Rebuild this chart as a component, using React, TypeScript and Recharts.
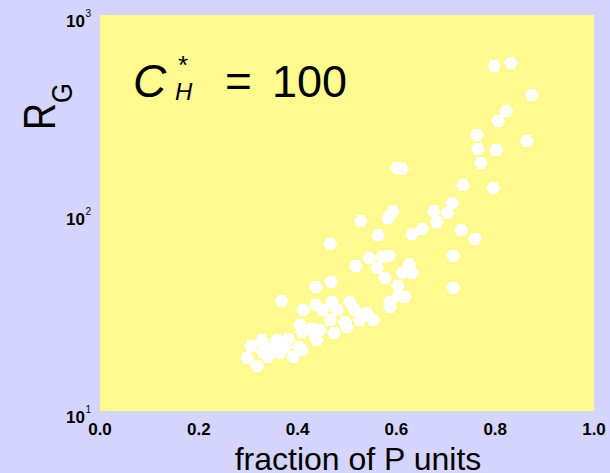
import React from 'react';
import { ScatterChart, Scatter, XAxis, YAxis, CartesianGrid } from 'recharts';

// values (x = fraction of P units, y = R_G, log scale)
const fractionP = [
  0.798, 0.832, 0.874, 0.822, 0.806, 0.763, 0.864, 0.765, 0.802, 0.771,
  0.735, 0.796, 0.713, 0.704, 0.676, 0.682, 0.731, 0.759, 0.715, 0.715,
  0.601, 0.611, 0.593, 0.583, 0.528, 0.652, 0.632, 0.563, 0.466, 0.545,
  0.571, 0.585, 0.518, 0.561, 0.626, 0.613, 0.632, 0.577, 0.603, 0.468,
  0.605, 0.617, 0.587, 0.587, 0.506, 0.47, 0.451, 0.48, 0.516, 0.54,
  0.553, 0.526, 0.466, 0.496, 0.5, 0.474, 0.445, 0.437, 0.368, 0.411,
  0.437, 0.405, 0.429, 0.439, 0.328, 0.306, 0.358, 0.381, 0.403, 0.298,
  0.318, 0.34, 0.364, 0.391, 0.409, 0.374, 0.348, 0.33, 0.409, 0.435,
];
const radiusG = [
  552, 573, 394, 327, 292, 248, 231, 210, 208, 179,
  138, 134, 112, 100, 102, 90, 82, 74, 61, 42,
  169, 167, 102, 94, 91, 83, 78, 77, 70, 59,
  60, 61, 54, 53, 55, 50, 50, 47, 43, 45,
  38.5, 37.7, 35.5, 33.5, 35.5, 35.5, 32.4, 32.4, 32.4, 31.3,
  28.8, 28.8, 28.8, 28.1, 26.5, 24.8, 25.6, 42.3, 36, 32.4,
  34.3, 27.2, 25.9, 22.8, 22.8, 21.3, 22.8, 23.1, 21.0, 18.5,
  16.9, 18.8, 19.6, 18.8, 20.3, 21.0, 20.8, 19.9, 25.1, 24.2,
];
const xTicks = [0, 0.2, 0.4, 0.6, 0.8, 1.0];
const yTicks = [10, 100, 1000];

const points = fractionP.map((x, i) => ({ x, y: radiusG[i] }));

const FONT = '"Liberation Sans", Arial, sans-serif';

const Hexagon = (props: any) => {
  const { cx, cy } = props;
  if (cx == null || cy == null) return null;
  const pts = [
    [cx - 7, cy], [cx - 3.5, cy - 6], [cx + 3.5, cy - 6],
    [cx + 7, cy], [cx + 3.5, cy + 6], [cx - 3.5, cy + 6],
  ].map(p => p.join(',')).join(' ');
  return <polygon points={pts} fill="#ffffff" shapeRendering="crispEdges" />;
};

const XTick = (props: any) => {
  const { x, y, payload } = props;
  return (
    <text x={x} y={y + 24} textAnchor="middle" fontFamily={FONT} fontWeight="bold" fontSize={17} fill="#000">
      {Number(payload.value).toFixed(1)}
    </text>
  );
};

const YTick = (props: any) => {
  const { x, y, payload } = props;
  const exp = Math.round(Math.log10(payload.value));
  return (
    <g>
      <text x={x - 15} y={y + 11.5} textAnchor="end" fontFamily={FONT} fontWeight="bold" fontSize={17} fill="#000">10</text>
      <text x={x - 14.5} y={y + 2} fontFamily={FONT} fontSize={10} fill="#000">{exp}</text>
    </g>
  );
};

export default function App() {
  return (
    <div style={{ position: 'absolute', left: 0, top: 0, width: 610, height: 473, background: '#d4d4fc' }}>
      <ScatterChart width={610} height={473} margin={{ top: 15, right: 16, bottom: 0, left: 0 }}>
        <CartesianGrid fill="#fffa90" stroke="none" horizontal={false} vertical={false} />
        <XAxis
          type="number"
          dataKey="x"
          domain={[0, 1]}
          ticks={xTicks}
          interval={0}
          height={62}
          axisLine={false}
          tickLine={false}
          tickSize={0}
          tickMargin={0}
          tick={<XTick />}
          label={{ value: 'fraction of P units', position: 'insideBottom', offset: 3, dx: 11, fontSize: 32, fontFamily: FONT, fill: '#000' }}
        />
        <YAxis
          type="number"
          dataKey="y"
          scale="log"
          domain={[10, 1000]}
          ticks={yTicks}
          interval={0}
          width={100}
          axisLine={false}
          tickLine={false}
          tickSize={0}
          tickMargin={0}
          tick={<YTick />}
        />
        <Scatter data={points} shape={<Hexagon />} isAnimationActive={false} />
        <text transform="translate(55,130) rotate(-90) scale(0.85,1)" x={0} y={0} fontFamily={FONT} fontSize={44} fill="#000">
          R<tspan dy={17} fontSize={30}>G</tspan>
        </text>
        <text x={133} y={97} fontFamily={FONT} fontStyle="italic" fontSize={46} fill="#000">C</text>
        <text x={178} y={74} fontFamily={FONT} fontSize={26} fill="#000">*</text>
        <text x={175} y={100} fontFamily={FONT} fontStyle="italic" fontSize={24} fill="#000">H</text>
        <text x={225} y={97} fontFamily={FONT} fontSize={46} fill="#000">=</text>
        <text x={272} y={97} fontFamily={FONT} fontSize={45} fill="#000">100</text>
      </ScatterChart>
    </div>
  );
}
